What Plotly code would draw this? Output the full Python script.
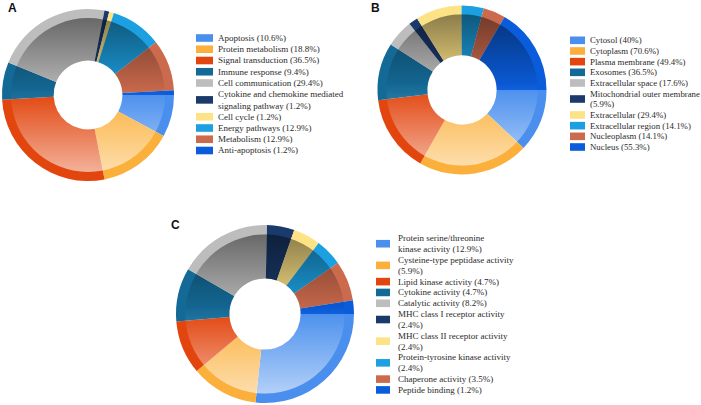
import base64
import plotly.graph_objects as go

W, H = 701, 405

# ---------------- data ----------------
a_labels = ["Apoptosis", "Protein metabolism", "Signal transduction", "Immune response",
            "Cell communication", "Cytokine and chemokine mediated|signaling pathway",
            "Cell cycle", "Energy pathways", "Metabolism", "Anti-apoptosis"]
a_values = [10.6, 18.8, 36.5, 9.4, 29.4, 1.2, 1.2, 12.9, 12.9, 1.2]

b_labels = ["Cytosol", "Cytoplasm", "Plasma membrane", "Exosomes", "Extracellular space",
            "Mitochondrial outer membrane|", "Extracellular", "Extracellular region",
            "Nucleoplasm", "Nucleus"]
b_values = [40, 70.6, 49.4, 36.5, 17.6, 5.9, 29.4, 14.1, 14.1, 55.3]

c_labels = ["Protein serine/threonine|kinase activity", "Cysteine-type peptidase activity|",
            "Lipid kinase activity", "Cytokine activity", "Catalytic activity",
            "MHC class I receptor activity|", "MHC class II receptor activity|",
            "Protein-tyrosine kinase activity|", "Chaperone activity", "Peptide binding"]
c_values = [12.9, 5.9, 4.7, 4.7, 8.2, 2.4, 2.4, 2.4, 3.5, 1.2]

colors = ["#4A8FEE", "#FBB03B", "#E2450E", "#146A97", "#BDBDBD",
          "#1B3A6C", "#FDE286", "#1CA0E1", "#CC6A4D", "#0A5CDB"]

# ---------------- layout (pixels) ----------------
panels = [
    dict(letter="A", labels=a_labels, values=a_values, cx=88, cy=95, R=86, hole=0.40,
         sw=(196, 213), tx=218, y0=38.0, pitch=11.25, lx=8, ly=8, fs=9),
    dict(letter="B", labels=b_labels, values=b_values, cx=462, cy=90, R=84.5, hole=0.41,
         sw=(570, 585), tx=590, y0=40.3, pitch=10.67, lx=371, ly=8, fs=8.8),
    dict(letter="C", labels=c_labels, values=c_values, cx=265, cy=314, R=89, hole=0.40,
         sw=(376, 390), tx=397.5, y0=238.3, pitch=10.83, lx=171, ly=225, fs=9),
]
RIM = 0.895


def px(x):
    return x / W


def py(y):
    return 1 - y / H


def ring_overlay(inner_ratio):
    r = 100 * inner_ratio
    svg = (
        '<svg xmlns="http://www.w3.org/2000/svg" width="200" height="200" viewBox="0 0 200 200">'
        '<defs><linearGradient id="g" x1="0" y1="0" x2="0" y2="1">'
        '<stop offset="0" stop-color="#000" stop-opacity="0.45"/>'
        '<stop offset="0.46" stop-color="#000" stop-opacity="0.04"/>'
        '<stop offset="0.5" stop-color="#fff" stop-opacity="0.02"/>'
        '<stop offset="1" stop-color="#fff" stop-opacity="0.58"/>'
        '</linearGradient></defs>'
        f'<path fill="url(#g)" fill-rule="evenodd" d="M0,100 a100,100 0 1,0 200,0 '
        f'a100,100 0 1,0 -200,0 Z M{100 - r},100 a{r},{r} 0 1,0 {2 * r},0 '
        f'a{r},{r} 0 1,0 {-2 * r},0 Z"/></svg>'
    )
    return "data:image/svg+xml;base64," + base64.b64encode(svg.encode()).decode()


fig = go.Figure()
shapes, annotations, images = [], [], []

for p in panels:
    cx, cy, R = p["cx"], p["cy"], p["R"]
    names = [n.replace("|", " ").strip() for n in p["labels"]]
    fig.add_trace(go.Pie(
        labels=names, values=p["values"], sort=False, direction="clockwise",
        rotation=90, hole=p["hole"], textinfo="none", showlegend=False,
        marker=dict(colors=colors, line=dict(width=0)),
        domain=dict(x=[px(cx - R), px(cx + R)], y=[py(cy + R), py(cy - R)]),
        hovertemplate="%{label}: %{value}%<extra></extra>",
    ))
    Ri = R * RIM
    images.append(dict(
        source=ring_overlay(p["hole"] / RIM), xref="paper", yref="paper",
        x=px(cx - Ri), y=py(cy - Ri), sizex=2 * Ri / W, sizey=2 * Ri / H,
        xanchor="left", yanchor="top", sizing="stretch", layer="above",
    ))
    # panel letter
    annotations.append(dict(
        text="<b>%s</b>" % p["letter"], xref="paper", yref="paper",
        x=px(p["lx"]), y=py(p["ly"]), xanchor="left", yanchor="middle",
        showarrow=False, borderpad=0, borderwidth=0,
        font=dict(family="Liberation Sans, Arial", size=12, color="#111"),
    ))
    # manual legend
    line = 0
    for name, v, col in zip(p["labels"], p["values"], colors):
        parts = [s.strip() for s in f"{name} ({v:g}%)".split("|")]
        ys = []
        for part in parts:
            y = p["y0"] + line * p["pitch"]
            ys.append(y)
            annotations.append(dict(
                text=part, xref="paper", yref="paper", x=px(p["tx"]), y=py(y),
                xanchor="left", yanchor="middle", showarrow=False,
                borderpad=0, borderwidth=0,
                font=dict(family="Liberation Serif, Times New Roman", size=p["fs"], color="#2a2a2a"),
            ))
            line += 1
        yc = sum(ys) / len(ys)
        shapes.append(dict(
            type="rect", xref="paper", yref="paper",
            x0=px(p["sw"][0]), x1=px(p["sw"][1]), y0=py(yc - 3.8), y1=py(yc + 3.8),
            fillcolor=col, line=dict(width=0),
        ))

fig.update_layout(
    width=W, height=H, margin=dict(l=0, r=0, t=0, b=0),
    paper_bgcolor="white", plot_bgcolor="white",
    shapes=shapes, annotations=annotations, images=images,
    xaxis=dict(visible=False), yaxis=dict(visible=False),
)

fig.write_html(
    "out.html",
    config={"displayModeBar": False},
    post_script="document.body.style.margin='0';document.body.style.overflow='hidden';",
)
